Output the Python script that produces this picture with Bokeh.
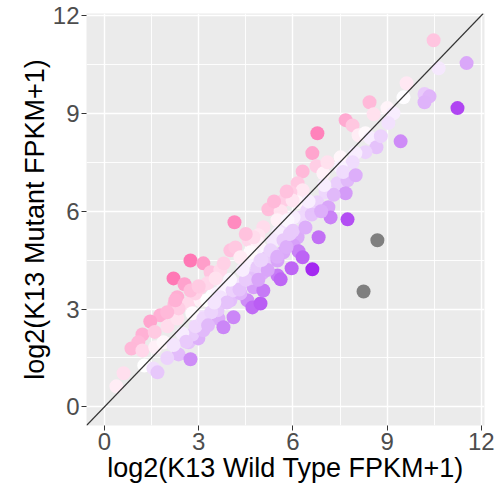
from bokeh.plotting import figure
from bokeh.models import (ColumnDataSource, LinearColorMapper, FixedTicker, Range1d, Slope)
from bokeh.transform import transform
from bokeh.embed import file_html
from bokeh.resources import INLINE

# ---- data: log2(FPKM+1) wild type (x) vs mutant (y) ----
wild_type = [
    10.48, 11.53, 10.64, 9.62, 9.52, 10.19, 10.35, 10.19, 11.24, 8.44,
    8.57, 9.01, 9.20, 9.04, 7.68, 7.90, 9.43, 8.09, 8.31, 8.47,
    8.66, 8.31, 7.99, 7.52, 7.90, 6.78, 6.62, 6.31, 6.75, 6.15,
    6.97, 7.10, 7.52, 7.42, 7.74, 7.68, 7.04, 6.78, 7.13, 7.20,
    7.74, 6.31, 6.15, 6.46, 6.24, 5.92, 5.70, 5.99, 5.22, 5.61,
    6.02, 5.51, 5.06, 5.83, 5.54, 4.90, 4.59, 4.97, 5.38, 6.15,
    6.82, 6.02, 6.18, 6.31, 5.70, 5.38, 5.19, 4.81, 4.65, 5.96,
    6.62, 5.51, 5.03, 4.59, 8.69, 8.25, 5.61, 4.14, 2.74, 3.15,
    2.20, 2.55, 3.38, 3.69, 4.01, 4.17, 4.87, 4.65, 4.33, 2.32,
    2.23, 2.68, 3.06, 3.44, 1.78, 1.46, 2.01, 2.32, 1.21, 1.08,
    0.86, 1.21, 1.62, 1.88, 1.27, 1.56, 1.69, 0.61, 0.38, 2.36,
    2.74, 2.68, 2.99, 2.80, 3.15, 2.48, 2.90, 3.12, 2.80, 2.36,
    2.90, 3.06, 3.63, 3.79, 4.11, 3.60, 4.01, 4.55, 4.71, 4.97,
    4.33, 4.75, 5.06, 4.87, 4.11, 3.79, 3.60, 5.29, 4.97, 5.51,
    4.75, 5.83, 5.70, 2.26, 2.74, 3.28, 3.54, 3.69, 4.08, 4.65,
    3.15, 3.28,
    3.40, 3.90, 4.30, 4.50, 4.90, 5.20, 5.50, 5.80, 6.00, 6.40,
    6.60, 6.90, 7.30, 7.00, 3.30, 2.60, 2.00, 2.20, 4.40, 4.00,
    3.50, 5.00, 5.90, 6.50, 7.60, 8.00, 8.80, 3.80, 4.50, 5.40,
    5.80, 2.00, 1.60, 3.00,
]
mutant = [
    11.24, 10.54, 10.38, 9.92, 9.49, 9.59, 9.52, 9.34, 9.16, 9.34,
    8.97, 9.16, 9.00, 8.70, 8.79, 8.63, 8.14, 8.33, 8.39, 8.24,
    7.96, 7.81, 7.78, 7.65, 7.50, 8.39, 7.78, 7.22, 7.38, 6.86,
    7.16, 7.50, 7.35, 6.86, 6.95, 6.55, 6.58, 6.27, 6.12, 5.81,
    5.75, 6.64, 6.27, 6.03, 5.81, 6.58, 6.33, 6.33, 6.06, 6.00,
    5.81, 5.72, 5.51, 5.51, 5.35, 5.26, 5.11, 4.86, 5.11, 5.20,
    5.20, 4.95, 4.77, 4.59, 4.74, 4.71, 4.59, 4.65, 4.49, 4.25,
    4.22, 4.03, 4.10, 4.03, 5.11, 3.54, 3.91, 5.66, 4.49, 4.40,
    3.94, 3.76, 4.13, 4.19, 4.80, 4.89, 5.05, 4.74, 4.59, 3.36,
    3.14, 3.17, 3.27, 3.42, 2.81, 2.62, 2.47, 2.71, 2.22, 1.98,
    1.79, 1.73, 1.83, 1.98, 1.27, 1.18, 1.06, 1.03, 0.63, 1.61,
    1.46, 1.98, 2.10, 2.22, 2.35, 2.25, 2.47, 2.75, 2.87, 3.02,
    3.48, 3.67, 2.71, 2.44, 2.75, 2.96, 3.27, 3.27, 3.05, 3.17,
    3.48, 3.67, 3.57, 4.28, 3.79, 3.67, 3.48, 4.80, 4.49, 4.49,
    5.20, 5.72, 5.11, 3.27, 3.57, 3.79, 3.94, 3.36, 3.57, 3.94,
    2.71, 3.27,
    2.90, 3.20, 3.60, 3.90, 3.90, 4.20, 4.60, 4.90, 5.40, 5.50,
    5.90, 6.00, 6.50, 6.80, 2.50, 2.00, 1.50, 1.90, 4.20, 3.90,
    3.20, 4.50, 5.30, 6.30, 7.20, 7.10, 8.30, 4.40, 5.30, 6.30,
    6.60, 2.90, 2.30, 3.70,
]
# colour value: log2 fold change (mutant - wild type)
log2_fold_change = [m - w for m, w in zip(mutant, wild_type)]

x_ticks = [0, 3, 6, 9, 12]
minor_ticks = [1.5, 4.5, 7.5, 10.5]
x_label = "log2(K13 Wild Type FPKM+1)"
y_label = "log2(K13 Mutant FPKM+1)"

# ---- colour scale: purple - white - pink ----
def _rgb(h):
    h = h.lstrip("#")
    return tuple(int(h[i:i + 2], 16) for i in (0, 2, 4))

def _blend(a, b, t):
    ca, cb = _rgb(a), _rgb(b)
    return "#%02x%02x%02x" % tuple(round(ca[i] + (cb[i] - ca[i]) * t) for i in range(3))

LOW, MID, HIGH = "#A020F0", "#FFFFFF", "#FF3E96"
palette = [_blend(LOW, MID, i / 127) for i in range(128)] + \
          [_blend(MID, HIGH, i / 127) for i in range(128)]
mapper = LinearColorMapper(palette=palette, low=-2.5, high=2.5,
                           low_color="#7F7F7F", high_color=HIGH, nan_color="#7F7F7F")

source = ColumnDataSource(dict(x=wild_type, y=mutant, lfc=log2_fold_change))

p = figure(width=496, height=485, output_backend="svg", toolbar_location=None,
           x_range=Range1d(-0.57, 12.1), y_range=Range1d(-0.57, 12.06),
           min_border_left=86, min_border_right=12, min_border_top=13, min_border_bottom=60)
p.background_fill_color = "#EBEBEB"
p.border_fill_color = "white"
p.outline_line_color = None

for ax in (p.xaxis[0], p.yaxis[0]):
    ax.ticker = FixedTicker(ticks=x_ticks, minor_ticks=minor_ticks)
    ax.axis_line_color = None
    ax.major_tick_line_color = "#333333"
    ax.major_tick_in = 0
    ax.major_tick_out = 5
    ax.minor_tick_line_color = None
    ax.major_label_text_font = "Liberation Sans"
    ax.major_label_text_font_size = "24px"
    ax.major_label_text_color = "#4D4D4D"
    ax.major_label_standoff = 2
    ax.axis_label_text_font = "Liberation Sans"
    ax.axis_label_text_font_size = "27px"
    ax.axis_label_text_font_style = "normal"
    ax.axis_label_text_color = "black"
    ax.axis_label_standoff = 0

p.xaxis.axis_label = x_label
p.yaxis.axis_label = y_label

for g in (p.xgrid[0], p.ygrid[0]):
    g.grid_line_color = "white"
    g.grid_line_width = 1.4
    g.minor_grid_line_color = "white"
    g.minor_grid_line_width = 0.9

p.scatter("x", "y", source=source, size=14, line_color=None,
          fill_color=transform("lfc", mapper))

p.add_layout(Slope(gradient=1, y_intercept=0, line_color="#333333", line_width=1.1))

open("out.html", "w").write(file_html(p, INLINE))
